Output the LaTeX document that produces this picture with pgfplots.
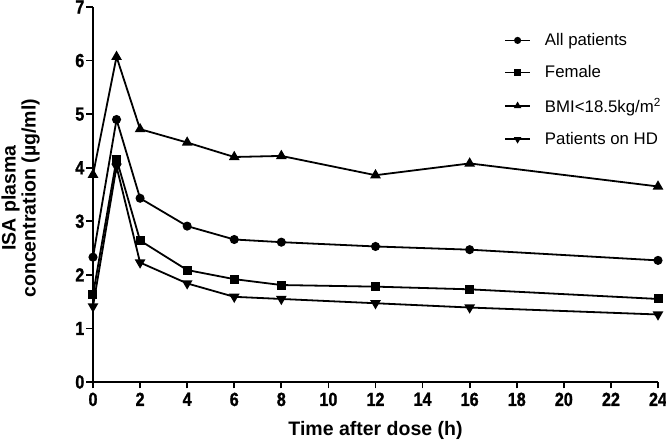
\documentclass[border=0pt]{standalone}
\usepackage{fontspec}
\setmainfont{Liberation Sans}
\newfontfamily\condfam[FakeStretch=0.85, FakeBold=1.3]{Liberation Sans Bold}
\usepackage{pgfplots}
\pgfplotsset{compat=1.18}

\begin{document}
\begin{tikzpicture}
\begin{axis}[
    name=ax,
    scale only axis,
    width=565pt, height=375pt,
    xmin=0, xmax=24, ymin=0, ymax=7,
    axis lines=left,
    axis line style={line width=1.8pt, -},
    tick align=outside,
    major tick length=6.5pt,
    tick style={line width=1.8pt, black},
    xtick={0,2,...,24},
    ytick={0,1,...,7},
    clip=false,
    /pgf/number format/assume math mode=true,
    ticklabel style={font=\fontsize{19}{21}\condfam, inner sep=2pt},
    xticklabel style={yshift=-2pt},
    xlabel={Time after dose (h)},
    ylabel={ISA plasma\\concentration (µg/ml)},
    label style={font=\fontsize{19.5}{20}\selectfont\bfseries, align=center},
    ylabel style={at={(axis description cs:-0.128,0.49)}, rotate=0, anchor=center},
    xlabel style={at={(axis description cs:0.5,-0.144)}, anchor=base},
    legend style={at={(0.7274,0.935)}, anchor=north west, draw=none, fill=none,
        inner sep=0pt, font=\fontsize{16.8}{18}\selectfont, row sep=14.5pt, column sep=12pt},
    legend cell align=left,
    legend image code/.code={
        \draw[#1, line width=1.8pt] (0pt,0pt) -- (25pt,0pt);
        \draw[#1, only marks, mark size=2.6pt] plot coordinates {(12.5pt,0pt)};
    },
]
\addplot[black, line width=1.8pt, mark=*, mark size=3.6pt] coordinates {
    (0,2.33) (1,4.90) (2,3.43) (4,2.91) (6,2.66) (8,2.61) (12,2.53) (16,2.47) (24,2.27)
};
\addlegendentry{All patients}
\addplot[black, line width=1.8pt, mark=square*, mark size=3.6pt] coordinates {
    (0,1.63) (1,4.16) (2,2.64) (4,2.09) (6,1.92) (8,1.81) (12,1.78) (16,1.73) (24,1.55)
};
\addlegendentry{Female}
\addplot[black, line width=1.8pt, mark=triangle*, mark size=4.4pt] coordinates {
    (0,3.87) (1,6.07) (2,4.72) (4,4.47) (6,4.20) (8,4.22) (12,3.86) (16,4.08) (24,3.65)
};
\addlegendentry{BMI<18.5kg/m\textsuperscript{2}}
\addplot[black, line width=1.8pt, mark=triangle*, mark size=4.4pt, mark options={rotate=180}] coordinates {
    (0,1.41) (1,4.02) (2,2.23) (4,1.84) (6,1.59) (8,1.55) (12,1.47) (16,1.39) (24,1.26)
};
\addlegendentry{Patients on HD}
\end{axis}
\pgfresetboundingbox
\path (ax.south west) ++(-93pt,-61pt) rectangle ++(666pt,443pt);
\end{tikzpicture}
\end{document}
